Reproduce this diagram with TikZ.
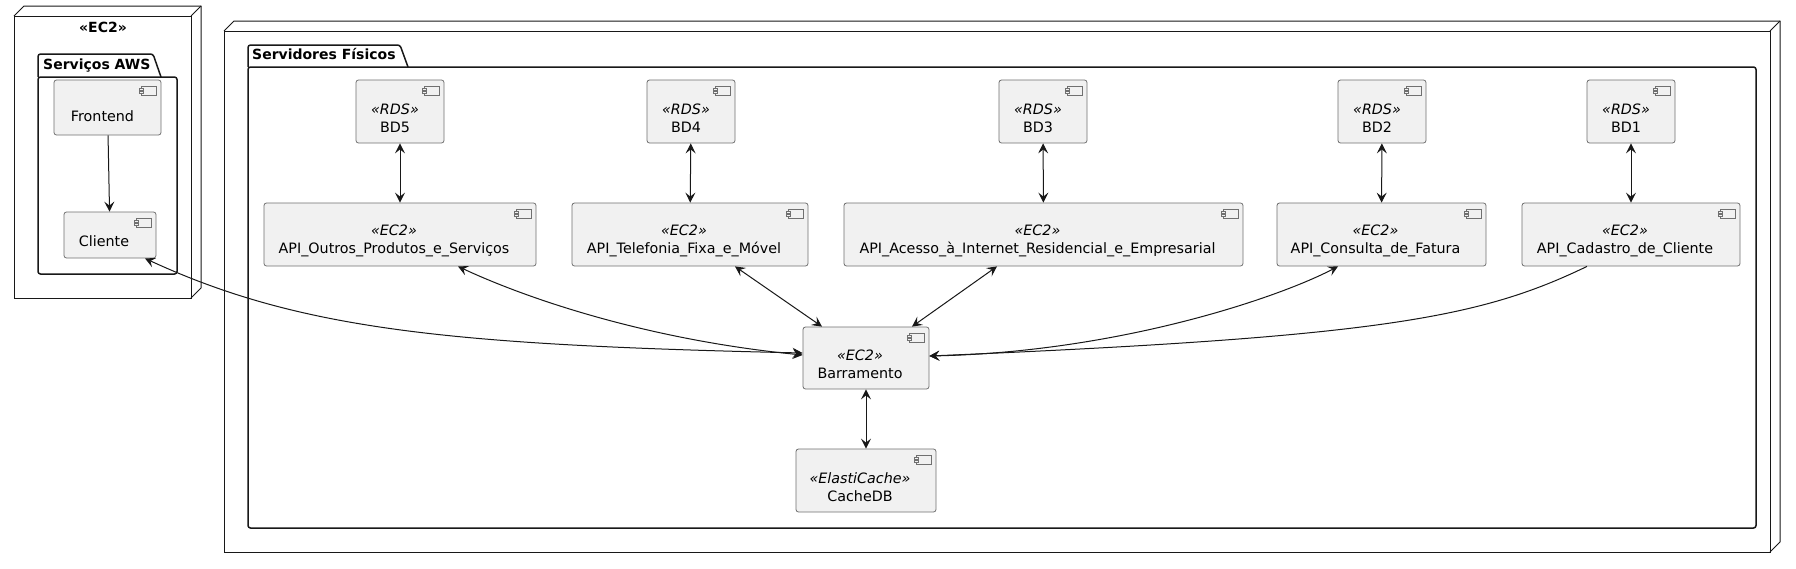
\documentclass[tikz,border=0pt]{standalone}
\usepackage{fontspec}
\setmainfont{DejaVu Sans}
\usetikzlibrary{arrows.meta,calc}
\definecolor{compfill}{HTML}{F1F1F1}
\definecolor{compline}{HTML}{707070}
\definecolor{ink}{HTML}{181818}
\begin{document}
\begin{tikzpicture}[x=1pt,y=-1pt,
  font=\fontsize{14.3}{18}\selectfont,
  >={Stealth[length=10pt,width=10pt,inset=4pt]},
  comp/.style={draw=compline, line width=0.8pt, fill=compfill, rounded corners=2.5pt, inner sep=0pt,
    path picture={
      \draw[compline, line width=0.7pt, sharp corners, fill=compfill]
        ([xshift=-20pt,yshift=-6pt]path picture bounding box.north east) rectangle ([xshift=-5pt,yshift=-15pt]path picture bounding box.north east);
      \draw[compline, line width=0.7pt, sharp corners, fill=compfill]
        ([xshift=-22pt,yshift=-8pt]path picture bounding box.north east) rectangle ([xshift=-18pt,yshift=-10pt]path picture bounding box.north east);
      \draw[compline, line width=0.7pt, sharp corners, fill=compfill]
        ([xshift=-22pt,yshift=-11.5pt]path picture bounding box.north east) rectangle ([xshift=-18pt,yshift=-13.5pt]path picture bounding box.north east);
    }},
  lbl/.style={align=center, inner sep=0pt},
  conn/.style={draw=ink, line width=1pt},
  nodebox/.style={draw=ink, line width=1pt},
  pkg/.style={draw=ink, line width=1.5pt, rounded corners=2.5pt},
  title/.style={font=\fontsize{14}{17}\selectfont\bfseries, inner sep=0pt}
]
\fill[white] (0,0) rectangle (1796,568);

% ---------- left node (EC2) ----------
\draw[nodebox] (14,16) rectangle (191,298);
\draw[nodebox, line join=round] (14,16) -- (24,6) -- (201,6) -- (201,288) -- (191,298);
\draw[nodebox] (191,16) -- (201,6);
\node[title, anchor=base] (ec2title) at (103,32) {«EC2»};

% package Serviços AWS
\draw[pkg] (38,77) -- (38,54) -- (153,54) -- (161,77);
\draw[pkg] (38,77) rectangle (177,274);
\node[title, anchor=base west] (awstitle) at (43,69) {Serviços AWS};

% ---------- right node ----------
\draw[nodebox] (224,31) rectangle (1770,552);
\draw[nodebox, line join=round] (224,31) -- (234,21) -- (1780,21) -- (1780,542) -- (1770,552);
\draw[nodebox] (1770,31) -- (1780,21);

% package Servidores Físicos
\draw[pkg] (248,67) -- (248,45) -- (400,45) -- (408,67);
\draw[pkg] (248,67) rectangle (1756,528);
\node[title, anchor=base west] (sftitle) at (252,59.5) {Servidores Físicos};

% ---------- components ----------
\node[comp, minimum width=107pt, minimum height=55pt,
  label={[lbl, xshift=-5pt, yshift=-9pt]center:{Frontend}}] (fe) at (107.5,107.5) {};
\node[comp, minimum width=92pt, minimum height=46pt,
  label={[lbl, xshift=-6pt, yshift=-6pt]center:{Cliente}}] (cli) at (110,235) {};

\node[comp, minimum width=88pt, minimum height=63pt,
  label={[lbl, xshift=-5pt, yshift=-6.5pt]center:{\textit{«RDS»}\\BD5}}] (bd5) at (400,111.5) {};
\node[comp, minimum width=88pt, minimum height=63pt,
  label={[lbl, xshift=-5pt, yshift=-6.5pt]center:{\textit{«RDS»}\\BD4}}] (bd4) at (691,111.5) {};
\node[comp, minimum width=88pt, minimum height=63pt,
  label={[lbl, xshift=-5pt, yshift=-6.5pt]center:{\textit{«RDS»}\\BD3}}] (bd3) at (1043,111.5) {};
\node[comp, minimum width=88pt, minimum height=63pt,
  label={[lbl, xshift=-5pt, yshift=-6.5pt]center:{\textit{«RDS»}\\BD2}}] (bd2) at (1382,111.5) {};
\node[comp, minimum width=88pt, minimum height=63pt,
  label={[lbl, xshift=-5pt, yshift=-6.5pt]center:{\textit{«RDS»}\\BD1}}] (bd1) at (1631,111.5) {};

\node[comp, minimum width=272pt, minimum height=63pt,
  label={[lbl, xshift=-6pt, yshift=-6.5pt]center:{\textit{«EC2»}\\API\_Outros\_Produtos\_e\_Serviços}}] (out) at (400,234.5) {};
\node[comp, minimum width=236pt, minimum height=63pt,
  label={[lbl, xshift=-6pt, yshift=-6.5pt]center:{\textit{«EC2»}\\API\_Telefonia\_Fixa\_e\_Móvel}}] (tel) at (690,234.5) {};
\node[comp, minimum width=399pt, minimum height=63pt,
  label={[lbl, xshift=-6pt, yshift=-6.5pt]center:{\textit{«EC2»}\\API\_Acesso\_à\_Internet\_Residencial\_e\_Empresarial}}] (acc) at (1043.5,234.5) {};
\node[comp, minimum width=209pt, minimum height=63pt,
  label={[lbl, xshift=-6pt, yshift=-6.5pt]center:{\textit{«EC2»}\\API\_Consulta\_de\_Fatura}}] (con) at (1381.5,234.5) {};
\node[comp, minimum width=218pt, minimum height=63pt,
  label={[lbl, xshift=-6pt, yshift=-6.5pt]center:{\textit{«EC2»}\\API\_Cadastro\_de\_Cliente}}] (cad) at (1631,234.5) {};

\node[comp, minimum width=126pt, minimum height=62pt,
  label={[lbl, xshift=-6pt, yshift=-6.5pt]center:{\textit{«EC2»}\\Barramento}}] (bar) at (866,358) {};
\node[comp, minimum width=140pt, minimum height=63pt,
  label={[lbl, xshift=-6pt, yshift=-6.5pt]center:{\textit{«ElastiCache»}\\CacheDB}}] (cache) at (866,480.5) {};

% ---------- connectors ----------
\draw[conn,->] (fe) -- (cli);
\draw[conn,<->] (bd5) -- (out);
\draw[conn,<->] (bd4) -- (tel);
\draw[conn,<->] (bd3) -- (acc);
\draw[conn,<->] (bd2) -- (con);
\draw[conn,<->] (bd1) -- (cad);
\draw[conn,<->] (bar) -- (cache);
\draw[conn,<->] ([xshift=45pt]tel.south) -- ([xshift=-44pt]bar.north);
\draw[conn,<->] ([xshift=-46.5pt]acc.south) -- ([xshift=46pt]bar.north);
\draw[conn,<->] ([xshift=58pt]out.south) .. controls (530,300) and (650,340) .. ([yshift=3pt]bar.west);
\draw[conn,<->] ([xshift=35pt]cli.south) .. controls (300,330) and (450,345) .. ([yshift=5pt]bar.west);
\draw[conn,<->] ([xshift=-43.5pt]con.south) .. controls (1280,297) and (1120,352) .. ([yshift=2pt]bar.east);
\draw[conn,->] ([xshift=-44pt]cad.south) .. controls (1480,318) and (1380,337) .. ([yshift=2pt]bar.east);
\end{tikzpicture}
\end{document}
